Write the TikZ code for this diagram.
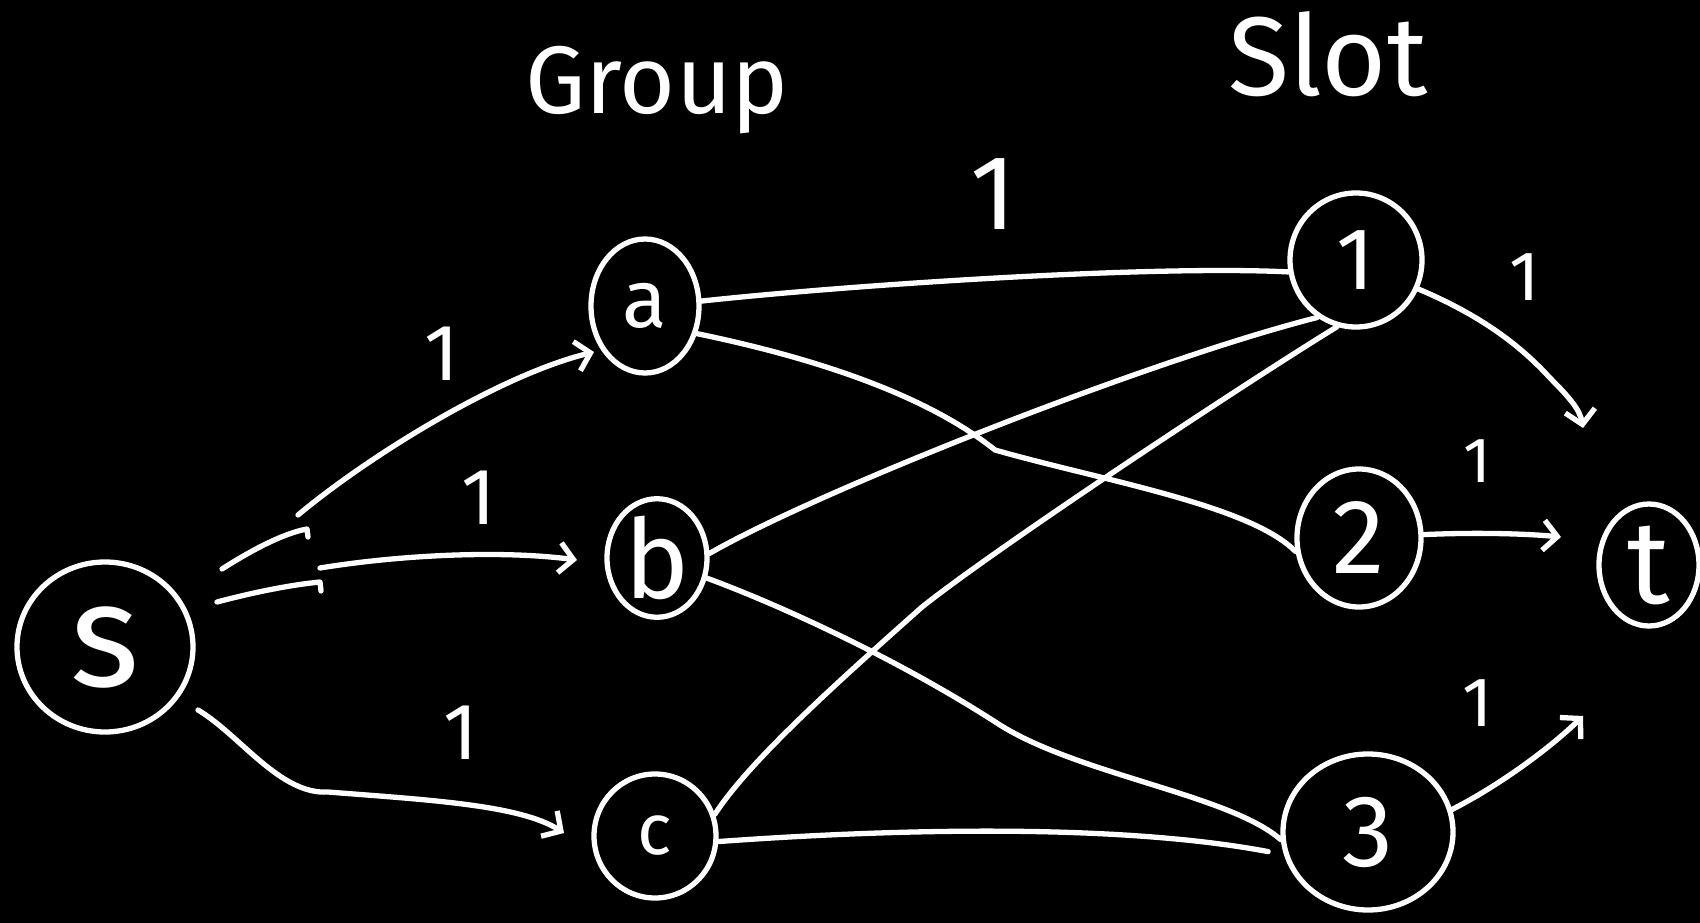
\documentclass[tikz,border=0pt]{standalone}
\usepackage{fontspec}
\newfontfamily\hand{Fira Sans}
\usetikzlibrary{shapes.geometric,arrows.meta}
\newcommand{\fs}[1]{\fontsize{#1}{#1}\selectfont}
\begin{document}
\begin{tikzpicture}[x=1pt,y=-1pt,
  ink/.style={draw=white, line width=5.3pt, line cap=round, line join=round},
  vertex/.style={ink, ellipse, inner sep=0pt, text=white, font=\hand},
  edge/.style={ink},
  flow/.style={ink, -{Straight Barb[length=14pt,width=30pt]}},
  lbl/.style={text=white, font=\hand, inner sep=0pt, anchor=base},
]
\fill[black] (0,0) rectangle (1700,923);
\useasboundingbox (0,0) rectangle (1700,923);

% column headings
\node[lbl] (group) at (657,114) {\fs{96}Group};
\node[lbl] (slot)  at (1328,96) {\fs{112}Slot};

% source, groups, slots, sink
\node[vertex, minimum width=176pt, minimum height=170pt] (s) at (105,647) {\fs{148}s};
\node[vertex, minimum width=108pt, minimum height=134pt] (a) at (645,306) {\fs{82}a};
\node[vertex, minimum width=100pt, minimum height=114pt] (b) at (657,558) {\fs{110}b};
\node[vertex, minimum width=122pt, minimum height=124pt] (c) at (655,836) {\fs{72}c};
\node[vertex, minimum width=132pt, minimum height=134pt] (1) at (1356,260) {\fs{88}1};
\node[vertex, minimum width=124pt, minimum height=138pt] (2) at (1359,538) {\fs{106}2};
\node[vertex, minimum width=170pt, minimum height=156pt] (3) at (1368,832) {\fs{102}3};
\node[vertex, minimum width=100pt, minimum height=122pt] (t) at (1649,565) {\fs{118}t};

% free ends of the source and sink arrows
\coordinate (sa) at (298,515);
\coordinate (ain) at (594,352);
\coordinate (sb1) at (222,569);
\coordinate (sb1e) at (307,529);
\coordinate (sb2) at (217,602);
\coordinate (sb2e) at (320,582);
\coordinate (sb) at (320,568);
\coordinate (bin) at (577,560);
\coordinate (sc) at (198,710);
\coordinate (cin) at (564,833);
\coordinate (t1in) at (1583,428);
\coordinate (t2in) at (1561,537);
\coordinate (t3in) at (1583,716);

% source to groups
\draw[flow] (sa) .. controls (370,455) and (500,375) .. (ain);
\draw[edge] (sb1) .. controls (255,548) and (285,533) .. (sb1e) -- ++(1,8);
\draw[edge] (sb2) .. controls (255,592) and (290,585) .. (sb2e) -- ++(1,9);
\draw[flow] (sb) .. controls (400,555) and (500,550) .. (bin);
\draw[flow] (sc) .. controls (240,735) and (280,795) .. (328,792)
                 .. controls (430,800) and (520,805) .. (cin);

% groups to slots
\draw[edge] (a.5) .. controls (850,285) and (1150,265) .. (1.190);
\draw[edge] (a.-28) .. controls (800,355) and (920,390) .. (995,450)
                    .. controls (1100,480) and (1250,505) .. (2.192);
\draw[edge] (b.5) .. controls (820,490) and (1150,360) .. (1.236);
\draw[edge] (b.-22) .. controls (780,605) and (900,660) .. (1000,725)
                    .. controls (1080,775) and (1230,795) .. (3.185);
\draw[edge] (c.20) .. controls (750,760) and (840,680) .. (922,607)
                   .. controls (1000,545) and (1250,380) .. (1.254);
\draw[edge, shorten >=16pt] (c.-5) .. controls (850,832) and (1100,820) .. (3.195);

% slots to sink
\draw[flow] (1.-25) .. controls (1480,315) and (1520,345) .. (1550,378)
                    .. controls (1570,398) and (1580,410) .. (t1in);
\draw[flow] (2.3) .. controls (1480,532) and (1530,534) .. (t2in);
\draw[flow] (3.15) .. controls (1500,785) and (1550,748) .. (t3in);

% capacities
\node[lbl] (capa1) at (993,229) {\fs{106}1};
\node[lbl] (capsa) at (442,380) {\fs{80}1};
\node[lbl] (capsb) at (479,524) {\fs{80}1};
\node[lbl] (capsc) at (461,759) {\fs{80}1};
\node[lbl] (cap1t) at (1525,300) {\fs{70}1};
\node[lbl] (cap2t) at (1477,482) {\fs{64}1};
\node[lbl] (cap3t) at (1478,726) {\fs{70}1};
\end{tikzpicture}
\end{document}
